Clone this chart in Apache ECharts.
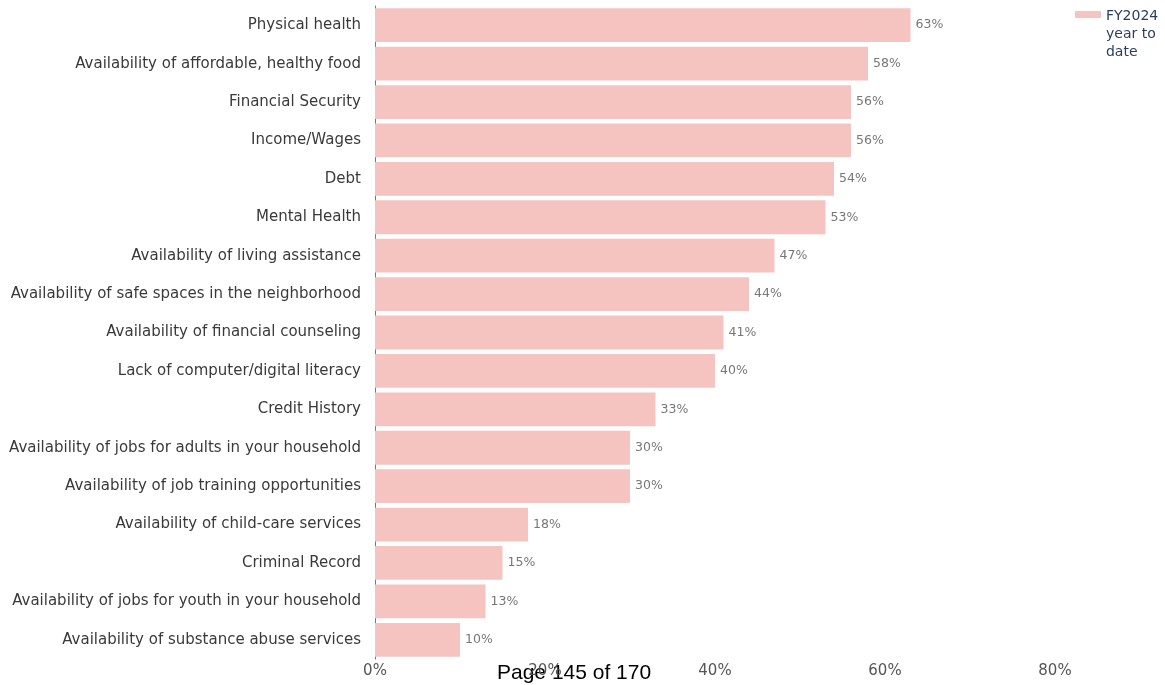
<!DOCTYPE html>
<html>
<head>
<meta charset="utf-8">
<script src="https://cdn.jsdelivr.net/npm/echarts@6/dist/echarts.min.js"></script>
<style>
  html, body { margin: 0; padding: 0; background: #fff; }
  #chart { width: 1165px; height: 685px; }
</style>
</head>
<body>
<div id="chart"></div>
<script>
// categories, top to bottom
const categories = [
  'Physical health',
  'Availability of affordable, healthy food',
  'Financial Security',
  'Income/Wages',
  'Debt',
  'Mental Health',
  'Availability of living assistance',
  'Availability of safe spaces in the neighborhood',
  'Availability of financial counseling',
  'Lack of computer/digital literacy',
  'Credit History',
  'Availability of jobs for adults in your household',
  'Availability of job training opportunities',
  'Availability of child-care services',
  'Criminal Record',
  'Availability of jobs for youth in your household',
  'Availability of substance abuse services'
]
const values = [63, 58, 56, 56, 54, 53, 47, 44, 41, 40, 33, 30, 30, 18, 15, 13, 10]
const seriesName = 'FY2024\nyear to\ndate'
const xTicks = [0, 20, 40, 60, 80]

const chart = echarts.init(document.getElementById('chart'))

// legend swatch sits at the top of the 3-line label
const legendIcon = 'path://M0,0h0.05v0.05h-0.05z M0,4h26v7h-26z M0,54h0.05v0.05h-0.05z'

chart.setOption({
  animation: false,
  textStyle: { fontFamily: 'DejaVu Sans' },
  grid: {
    left: 375,
    right: 110,
    top: 6,
    bottom: 26
  },
  legend: {
    data: [{ name: seriesName, icon: legendIcon }],
    left: 1070,
    top: 2,
    orient: 'vertical',
    itemWidth: 26,
    itemHeight: 54,
    itemGap: 4,
    textStyle: {
      color: '#2a3f5f',
      fontSize: 14,
      lineHeight: 18,
      fontFamily: 'DejaVu Sans'
    }
  },
  xAxis: {
    type: 'value',
    min: xTicks[0],
    max: xTicks[xTicks.length - 1],
    interval: 20,
    axisLine: { show: false },
    axisTick: { show: false },
    splitLine: { show: false },
    axisLabel: {
      formatter: '{value}%',
      color: '#555',
      fontSize: 15,
      margin: 5
    }
  },
  yAxis: {
    type: 'category',
    inverse: true,
    data: categories,
    axisLine: { lineStyle: { color: '#777', width: 1 } },
    axisTick: { show: false },
    axisLabel: {
      color: '#3a3a3a',
      fontSize: 15,
      margin: 14
    }
  },
  series: [
    {
      name: seriesName,
      type: 'bar',
      data: values,
      barCategoryGap: '12%',
      itemStyle: { color: '#f5c3c0' },
      label: {
        show: true,
        position: 'right',
        distance: 5,
        formatter: '{c}%',
        color: '#777',
        fontSize: 12.5
      }
    }
  ],
  graphic: [
    {
      type: 'text',
      left: 497,
      top: 663,
      style: {
        text: 'Page 145 of 170',
        fill: '#000',
        fontSize: 21,
        fontFamily: 'Liberation Sans'
      }
    }
  ]
})
</script>
</body>
</html>
